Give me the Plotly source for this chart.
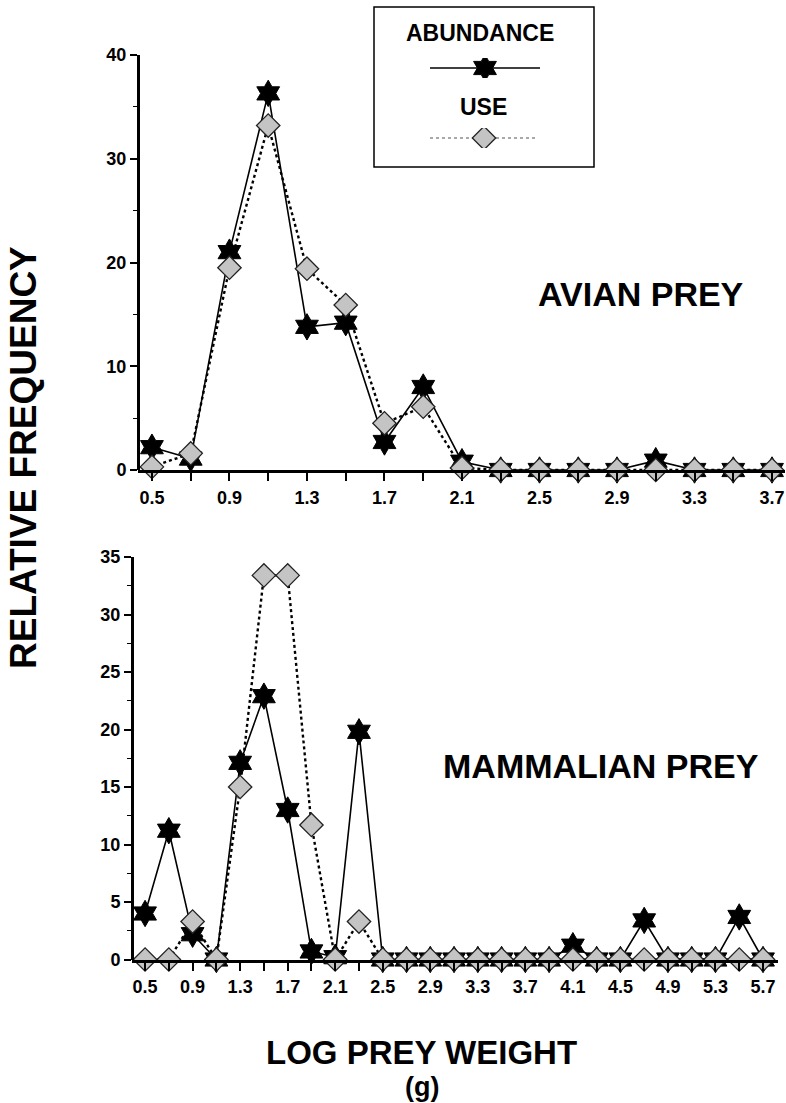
import plotly.graph_objects as go

# ---------------- data ----------------
avian_x = [0.5, 0.7, 0.9, 1.1, 1.3, 1.5, 1.7, 1.9, 2.1, 2.3, 2.5, 2.7, 2.9, 3.1, 3.3, 3.5, 3.7]
avian_abundance = [2.2, 1.1, 21.0, 36.3, 13.8, 14.2, 2.7, 8.0, 0.8, 0, 0, 0, 0, 0.9, 0, 0, 0]
avian_use = [0.3, 1.6, 19.5, 33.2, 19.4, 15.9, 4.5, 6.1, 0.2, 0, 0, 0, 0, 0, 0, 0, 0]
avian_ticktext = ["0.5", "", "0.9", "", "1.3", "", "1.7", "", "2.1", "", "2.5", "", "2.9", "", "3.3", "", "3.7"]

mam_x = [0.5, 0.7, 0.9, 1.1, 1.3, 1.5, 1.7, 1.9, 2.1, 2.3, 2.5, 2.7, 2.9, 3.1, 3.3, 3.5, 3.7,
         3.9, 4.1, 4.3, 4.5, 4.7, 4.9, 5.1, 5.3, 5.5, 5.7]
mam_abundance = [4.0, 11.2, 2.2, 0, 17.1, 22.9, 13.0, 0.7, 0.2, 19.8, 0, 0, 0, 0, 0, 0, 0,
                 0, 1.2, 0, 0, 3.4, 0, 0, 0, 3.7, 0]
mam_use = [0, 0, 3.3, 0, 15.0, 33.4, 33.4, 11.7, 0, 3.3, 0, 0, 0, 0, 0, 0, 0,
           0, 0, 0, 0, 0, 0, 0, 0, 0, 0]
mam_ticktext = ["0.5", "", "0.9", "", "1.3", "", "1.7", "", "2.1", "", "2.5", "", "2.9", "", "3.3", "",
                "3.7", "", "4.1", "", "4.5", "", "4.9", "", "5.3", "", "5.7"]

legend_x = [0, 0.5, 1]
legend_y = [0.5, 0.5, 0.5]

W, H = 786, 1103
FONT = "Liberation Sans, Arial, sans-serif"

def px_x(p):
    return p / W

def px_y(p):
    return 1 - p / H

STAR = dict(symbol="hexagram", size=20, color="black", line=dict(color="black", width=1))
DIAM = dict(symbol="diamond", size=18, color="#c4c4c4", line=dict(color="#222222", width=1.3))

fig = go.Figure()

# top panel
fig.add_trace(go.Scatter(x=avian_x, y=avian_abundance, mode="lines+markers", xaxis="x", yaxis="y",
                         line=dict(color="black", width=1.6), marker=STAR, cliponaxis=False,
                         showlegend=False))
fig.add_trace(go.Scatter(x=avian_x, y=avian_use, mode="lines+markers", xaxis="x", yaxis="y",
                         line=dict(color="black", width=2.4, dash="dot"), marker=DIAM, cliponaxis=False,
                         showlegend=False))
# bottom panel
fig.add_trace(go.Scatter(x=mam_x, y=mam_abundance, mode="lines+markers", xaxis="x2", yaxis="y2",
                         line=dict(color="black", width=1.6), marker=STAR, cliponaxis=False,
                         showlegend=False))
fig.add_trace(go.Scatter(x=mam_x, y=mam_use, mode="lines+markers", xaxis="x2", yaxis="y2",
                         line=dict(color="black", width=2.4, dash="dot"), marker=DIAM, cliponaxis=False,
                         showlegend=False))

# legend samples (separate hidden axes)
fig.add_trace(go.Scatter(x=legend_x, y=legend_y, mode="lines", xaxis="x3", yaxis="y3",
                         line=dict(color="black", width=1.6), showlegend=False, hoverinfo="skip"))
fig.add_trace(go.Scatter(x=[legend_x[1]], y=[legend_y[1]], mode="markers", xaxis="x3", yaxis="y3",
                         marker=STAR, showlegend=False, hoverinfo="skip"))
fig.add_trace(go.Scatter(x=legend_x, y=legend_y, mode="lines", xaxis="x4", yaxis="y4",
                         line=dict(color="#555555", width=1.2, dash="dot"), showlegend=False, hoverinfo="skip"))
fig.add_trace(go.Scatter(x=[legend_x[1]], y=[legend_y[1]], mode="markers", xaxis="x4", yaxis="y4",
                         marker=DIAM, showlegend=False, hoverinfo="skip"))

tickfont = dict(family=FONT, size=18, color="black", weight="bold")

def yax(domain, rng, dtick, minor, pos):
    return dict(domain=domain, range=rng, anchor="free", position=pos, showgrid=False, zeroline=False,
                showline=True, linecolor="black", linewidth=3, ticks="outside", ticklen=7,
                tickwidth=2, tickcolor="black", dtick=dtick, tick0=0, tickfont=tickfont,
                minor=dict(ticks="outside", ticklen=4, tickwidth=1, tickcolor="black", dtick=minor, tick0=0),
                fixedrange=True, automargin=False)

def xax(domain, rng, vals, text, anchor):
    return dict(domain=domain, range=rng, anchor=anchor, showgrid=False, zeroline=False,
                showline=True, linecolor="black", linewidth=3, ticks="outside", ticklen=8,
                tickwidth=2, tickcolor="black", tickmode="array", tickvals=vals, ticktext=text,
                tickfont=tickfont, ticklabelstandoff=1, fixedrange=True, automargin=False)

top_x_dom = [px_x(138), px_x(785)]
top_y_dom = [px_y(470), px_y(55)]
bot_x_dom = [px_x(132), px_x(778)]
bot_y_dom = [px_y(959.5), px_y(557)]

hidden = dict(visible=False, range=[0, 1], fixedrange=True, automargin=False)

big = dict(family=FONT, size=34, color="black", weight="bold")

fig.update_layout(
    width=W, height=H,
    template="none",
    margin=dict(l=0, r=0, t=0, b=0, autoexpand=False),
    paper_bgcolor="white", plot_bgcolor="rgba(0,0,0,0)",
    xaxis=xax(top_x_dom, [0.428, 3.767], avian_x, avian_ticktext, "y"),
    yaxis=yax(top_y_dom, [0, 40], 10, 5, top_x_dom[0]),
    xaxis2=xax(bot_x_dom, [0.39, 5.826], mam_x, mam_ticktext, "y2"),
    yaxis2=yax(bot_y_dom, [0, 35], 5, 2.5, bot_x_dom[0]),
    xaxis3=dict(hidden, domain=[px_x(430), px_x(540)], anchor="y3"),
    yaxis3=dict(hidden, domain=[px_y(78), px_y(58)], anchor="x3"),
    xaxis4=dict(hidden, domain=[px_x(430), px_x(538)], anchor="y4"),
    yaxis4=dict(hidden, domain=[px_y(148), px_y(128)], anchor="x4"),
    font=dict(family=FONT, color="black"),
    shapes=[dict(type="rect", xref="paper", yref="paper", x0=px_x(374), x1=px_x(594),
                 y0=px_y(167), y1=px_y(7), line=dict(color="black", width=1.5))],
    annotations=[
        dict(text="ABUNDANCE", x=px_x(480), y=px_y(33), xref="paper", yref="paper", showarrow=False,
             font=dict(family=FONT, size=23, color="black", weight="bold"), xanchor="center", yanchor="middle"),
        dict(text="USE", x=px_x(484), y=px_y(107), xref="paper", yref="paper", showarrow=False,
             font=dict(family=FONT, size=23, color="black", weight="bold"), xanchor="center", yanchor="middle"),
        dict(text="AVIAN PREY", x=px_x(641), y=px_y(294), xref="paper", yref="paper", showarrow=False,
             font=big, xanchor="center", yanchor="middle"),
        dict(text="MAMMALIAN PREY", x=px_x(601), y=px_y(766), xref="paper", yref="paper", showarrow=False,
             font=big, xanchor="center", yanchor="middle"),
        dict(text="RELATIVE FREQUENCY", x=px_x(23), y=px_y(458), xref="paper", yref="paper",
             showarrow=False, textangle=-90,
             font=dict(big, size=37), xanchor="center", yanchor="middle"),
        dict(text="LOG PREY WEIGHT", x=px_x(421), y=px_y(1052), xref="paper", yref="paper",
             showarrow=False, font=dict(big, size=33),
             xanchor="center", yanchor="middle"),
        dict(text="(g)", x=px_x(422), y=px_y(1087), xref="paper", yref="paper",
             showarrow=False, font=dict(big, size=27),
             xanchor="center", yanchor="middle"),
    ],
)

fig.write_html("out.html")
